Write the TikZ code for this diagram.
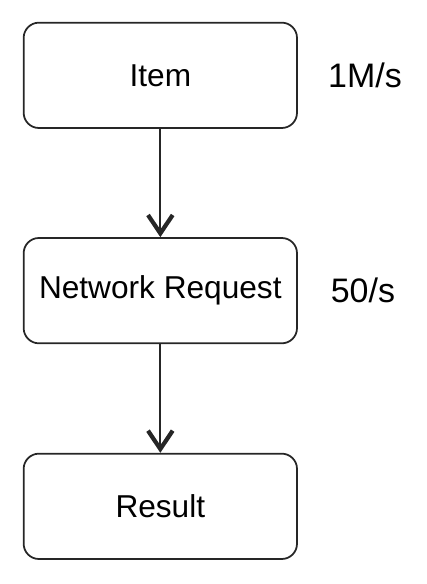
\documentclass[tikz,border=0pt]{standalone}
\usepackage{fontspec}
\setmainfont{Liberation Sans}
\usetikzlibrary{arrows.meta,positioning}

\begin{document}
\begin{tikzpicture}[
    stage/.style={rectangle, rounded corners=13pt, draw=black!85, line width=1.5pt,
                  minimum width=8.2cm, minimum height=3.16cm, inner sep=0pt,
                  font=\fontsize{27}{32}\selectfont},
    rate/.style={font=\fontsize{29}{34}\selectfont, inner sep=0pt, anchor=west},
    flow/.style={line width=1.5pt, black!85,
                 -{Straight Barb[length=0.55cm, width=0.74cm, line width=3.6pt]}}
  ]
  \useasboundingbox (0,0) rectangle (12.78,17.52);

  %% Stages
  \node[stage] (item) at (4.81,15.26) {Item};
  \node[stage] (net)  at (4.81,8.80)  {Network Request};
  \node[stage] (res)  at (4.81,2.33)  {Result};

  \draw[flow] (item) -- (net);
  \draw[flow] (net) -- (res);

  %% Rates
  \node[rate, right=0.9cm of item] (itemrate) {1M/s};
  \node[rate, right=0.98cm of net]  (netrate)  {50/s};

\end{tikzpicture}
\end{document}
